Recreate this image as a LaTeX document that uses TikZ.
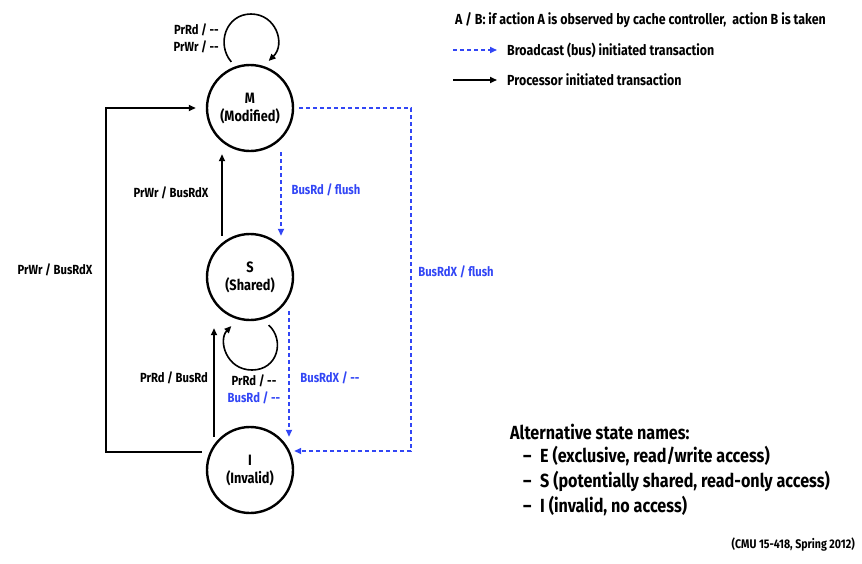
\documentclass[tikz,border=0pt]{standalone}
\usepackage{fontspec}
\setmainfont{Fira Sans}[FakeStretch=0.85]
\usetikzlibrary{arrows.meta}
\definecolor{busblue}{RGB}{50,70,245}

\begin{document}
\begin{tikzpicture}
		[x=1pt,y=-1pt,
		 n/.style= {circle,draw=black,line width=2.4pt,minimum size=86pt,inner sep=0pt,align=center,font=\fontsize{15}{18}\selectfont\bfseries},
		 pr/.style= {line width=1.6pt,-{Triangle[length=7pt,width=6pt]}},
		 bus/.style= {busblue,line width=1.6pt,dash pattern=on 4pt off 3pt,-{Triangle[length=7pt,width=6pt]}},
		 lbl/.style= {font=\fontsize{13.2}{17}\selectfont\bfseries,inner sep=1pt},
		 blbl/.style= {lbl,text=busblue},
		 key/.style= {font=\fontsize{14.6}{17}\selectfont\bfseries,inner sep=0pt,anchor=west},
		 big/.style= {font=\fontsize{19}{22}\selectfont\bfseries,inner sep=0pt,anchor=west}]

		\useasboundingbox (0,0) rectangle (862,563);

		\node[n] (nM) at (250,108) {M\\(Modified)};
		\node[n] (nS) at (250,277) {S\\(Shared)};
		\node[n] (nI) at (250,470) {I\\(Invalid)};

		% processor transactions
		\draw[pr] ([yshift=6pt]nM.115) .. controls (216,44) and (226,14) .. (251,14)
			.. controls (276,14) and (286,44) .. ([yshift=7pt]nM.65);
		\draw[pr] ([xshift=-28pt,yshift=-3pt]nS.north) -- ([xshift=-28pt,yshift=-2pt]nM.south);
		\draw[pr] ([xshift=-36pt,yshift=-11pt]nI.north) -- ([xshift=-36pt,yshift=-7pt]nS.south);
		\draw[pr] ([yshift=-8pt]nS.-65) .. controls (285,340) and (278,370) .. (252,370)
			.. controls (226,370) and (218,340) .. ([yshift=-9pt]nS.-115);
		\draw[pr] ([xshift=-4pt,yshift=18pt]nI.west) -- ++(-96,0) |- ([xshift=-10pt]nM.west);

		% bus transactions
		\draw[bus] ([xshift=31pt]nM.south) -- ([xshift=31pt,yshift=-3pt]nS.north);
		\draw[bus] ([xshift=5pt]nM.east) -- ++(112,0) |- ([yshift=19pt]nI.east);
		\draw[bus] ([xshift=39pt,yshift=10pt]nS.south) -- ([xshift=39pt,yshift=-11pt]nI.north);

		% labels
		\node[lbl,anchor=east,align=right] (lM) at (220,38) {PrRd / -{}-\\PrWr / -{}-};
		\node[lbl] (lSM) at (171,193) {PrWr / BusRdX};
		\node[lbl] (lIM) at (55,270) {PrWr / BusRdX};
		\node[lbl] (lIS) at (174,378) {PrRd / BusRd};
		\node[lbl] (lS) at (254,381) {PrRd / -{}-};
		\node[blbl] (lSb) at (254,398) {BusRd / -{}-};
		\node[blbl] (lMS) at (326,190) {BusRd / flush};
		\node[blbl] (lMI) at (456,272) {BusRdX / flush};
		\node[blbl] (lSI) at (330,378) {BusRdX / -{}-};

		% legend
		\node[key] (keyAB) at (455,20) {A / B: if action A is observed by cache controller,\ \ action B is taken};
		\coordinate (kb0) at (453,50);
		\node[key] (kb) at (507,50) {Broadcast (bus) initiated transaction};
		\draw[bus] (kb0) -- ([xshift=-10pt]kb.west);
		\coordinate (kp0) at (453,80);
		\node[key] (kp) at (507,80) {Processor initiated transaction};
		\draw[pr] (kp0) -- ([xshift=-10pt]kp.west);

		\node[big] (alt) at (510,432) {Alternative state names:};
		\node[big] (altE) at (523,456) {\makebox[17pt][l]{--}E (exclusive, read/write access)};
		\node[big] (altS) at (523,481) {\makebox[17pt][l]{--}S (potentially shared, read-only access)};
		\node[big] (altI) at (523,506) {\makebox[17pt][l]{--}I (invalid, no access)};
		\node[font=\fontsize{12.5}{14}\selectfont\bfseries,inner sep=0pt,anchor=east] (src) at (855,545) {(CMU 15-418, Spring 2012)};

	\end{tikzpicture}
\end{document}
